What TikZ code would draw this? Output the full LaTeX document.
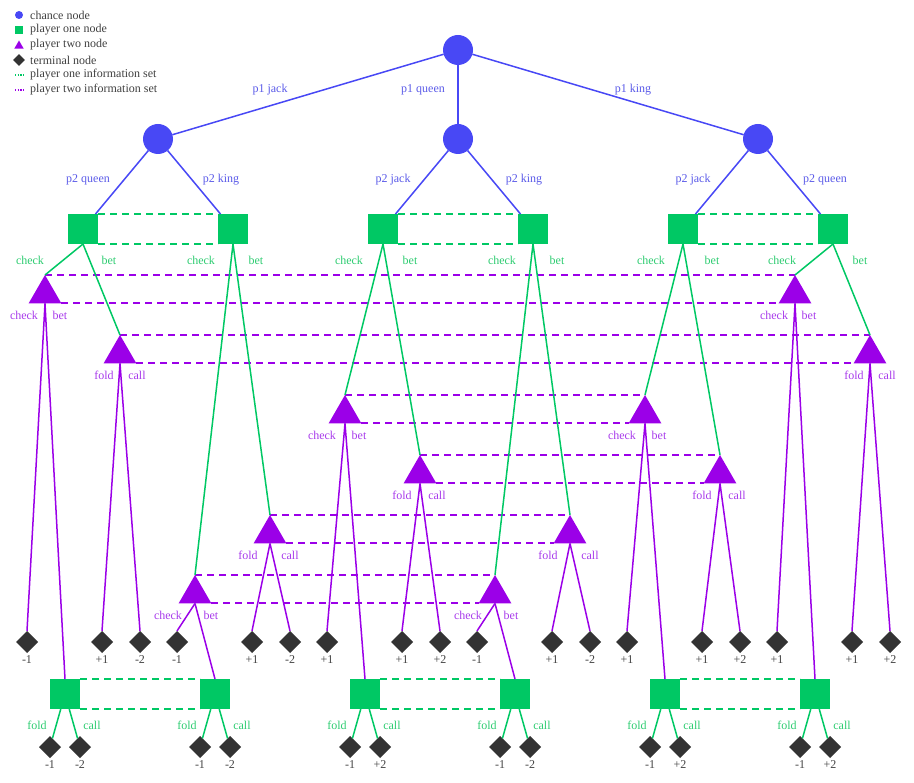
\documentclass[tikz,border=0pt]{standalone}
\usepackage{fontspec}
\setmainfont{Liberation Serif}
\usetikzlibrary{shapes.geometric}

\definecolor{chanceblue}{HTML}{4848F5}
\definecolor{chancelab}{HTML}{5A5AE8}
\definecolor{ponegreen}{HTML}{00C864}
\definecolor{ponelab}{HTML}{2ECC71}
\definecolor{ptwopurple}{HTML}{9B00E8}
\definecolor{ptwolab}{HTML}{A83BEB}
\definecolor{termgray}{HTML}{333333}
\definecolor{vallabgray}{HTML}{444444}

\tikzset{
  every node/.style={font=\fontsize{12}{14}\selectfont},
  chance/.style={circle, fill=chanceblue, minimum size=30pt, inner sep=0pt, outer sep=0pt},
  pone/.style={rectangle, fill=ponegreen, minimum size=30pt, inner sep=0pt, outer sep=0pt},
  ptwo/.style={regular polygon, regular polygon sides=3, fill=ptwopurple, minimum size=38pt, inner sep=0pt, outer sep=0pt},
  term/.style={diamond, fill=termgray, minimum size=22pt, inner sep=0pt, outer sep=0pt},
  vallab/.style={text=vallabgray, inner sep=2pt},
  clab/.style={text=chancelab},
  glab/.style={text=ponelab},
  plab/.style={text=ptwolab},
  cedge/.style={color=chanceblue, line width=1.5pt},
  gedge/.style={color=ponegreen, line width=1.5pt},
  pedge/.style={color=ptwopurple, line width=1.5pt},
  ginfo/.style={color=ponegreen, line width=1.5pt, dash pattern=on 7pt off 5pt},
  pinfo/.style={color=ptwopurple, line width=1.5pt, dash pattern=on 7pt off 5pt},
  % base corners of a player-two triangle, seen from its south anchor
  rbase/.style={xshift=16.45pt, yshift=0.5pt},
  lbase/.style={xshift=-16.45pt, yshift=0.5pt},
}

% terminal node with its payoff printed underneath
\newcommand\payoff[3]{\node[term, label={[vallab]below:#3}] (#1) at (#2) {};}

\begin{document}
\begin{tikzpicture}[x=1pt, y=-1pt]
\useasboundingbox (0,0) rectangle (914,783);

% ---------- legend ----------
\node[circle, fill=chanceblue, minimum size=8pt, inner sep=0pt] (lgc) at (19,15) {};
\node[rectangle, fill=ponegreen, minimum size=8pt, inner sep=0pt] (lgs) at (19,30) {};
\node[regular polygon, regular polygon sides=3, fill=ptwopurple, minimum size=11pt, inner sep=0pt] (lgt) at (19,46) {};
\node[diamond, fill=termgray, minimum size=12pt, inner sep=0pt] (lgd) at (19,60) {};
\coordinate (lgga) at (15,75); \coordinate (lggb) at (24,75);
\coordinate (lgpa) at (15,90); \coordinate (lgpb) at (24,90);
\draw[color=ponegreen, line width=1.2pt, dash pattern=on 1.2pt off 1.5pt] (lgga) -- (lggb);
\draw[color=ptwopurple, line width=1.2pt, dash pattern=on 1.2pt off 1.5pt] (lgpa) -- (lgpb);
\foreach \y/\t [count=\i] in {15/chance node, 30/player one node, 45/player two node,
    60/terminal node, 75/player one information set, 90/player two information set}
  \node[anchor=west, text=black!75, inner sep=0pt] (lgtext\i) at (30,\y) {\t};

% ---------- chance nodes ----------
\node[chance] (c0) at (458,50) {};
\node[chance] (c1) at (158,139) {};
\node[chance] (c2) at (458,139) {};
\node[chance] (c3) at (758,139) {};

% ---------- player one, first decision ----------
\foreach \x [count=\i] in {83,233,383,533,683,833}
  \node[pone] (a\i) at (\x,229) {};

% ---------- player two nodes (apex = centre - 19) ----------
\node[ptwo] (q1)  at (45,294)  {};
\node[ptwo] (q2)  at (795,294) {};
\node[ptwo] (qb1) at (120,354) {};
\node[ptwo] (qb2) at (870,354) {};
\node[ptwo] (j1)  at (345,414) {};
\node[ptwo] (j2)  at (645,414) {};
\node[ptwo] (jb1) at (420,474) {};
\node[ptwo] (jb2) at (720,474) {};
\node[ptwo] (kb1) at (270,534) {};
\node[ptwo] (kb2) at (570,534) {};
\node[ptwo] (k1)  at (195,594) {};
\node[ptwo] (k2)  at (495,594) {};

% ---------- player one, second decision ----------
\foreach \x [count=\i] in {65,215,365,515,665,815}
  \node[pone] (b\i) at (\x,694) {};

% ---------- terminal nodes ----------
\payoff{t1}{27,642}{-1}
\payoff{t2}{102,642}{+1}
\payoff{t3}{140,642}{-2}
\payoff{t4}{177,642}{-1}
\payoff{t5}{252,642}{+1}
\payoff{t6}{290,642}{-2}
\payoff{t7}{327,642}{+1}
\payoff{t8}{402,642}{+1}
\payoff{t9}{440,642}{+2}
\payoff{t10}{477,642}{-1}
\payoff{t11}{552,642}{+1}
\payoff{t12}{590,642}{-2}
\payoff{t13}{627,642}{+1}
\payoff{t14}{702,642}{+1}
\payoff{t15}{740,642}{+2}
\payoff{t16}{777,642}{+1}
\payoff{t17}{852,642}{+1}
\payoff{t18}{890,642}{+2}

\payoff{u1}{50,747}{-1}
\payoff{u2}{80,747}{-2}
\payoff{u3}{200,747}{-1}
\payoff{u4}{230,747}{-2}
\payoff{u5}{350,747}{-1}
\payoff{u6}{380,747}{+2}
\payoff{u7}{500,747}{-1}
\payoff{u8}{530,747}{-2}
\payoff{u9}{650,747}{-1}
\payoff{u10}{680,747}{+2}
\payoff{u11}{800,747}{-1}
\payoff{u12}{830,747}{+2}

% ---------- information sets ----------
% player one
\draw[ginfo] (a1.north east) -- (a2.north west);
\draw[ginfo] (a1.south east) -- (a2.south west);
\draw[ginfo] (a3.north east) -- (a4.north west);
\draw[ginfo] (a3.south east) -- (a4.south west);
\draw[ginfo] (a5.north east) -- (a6.north west);
\draw[ginfo] (a5.south east) -- (a6.south west);
\draw[ginfo] (b1.north east) -- (b2.north west);
\draw[ginfo] (b1.south east) -- (b2.south west);
\draw[ginfo] (b3.north east) -- (b4.north west);
\draw[ginfo] (b3.south east) -- (b4.south west);
\draw[ginfo] (b5.north east) -- (b6.north west);
\draw[ginfo] (b5.south east) -- (b6.south west);

% player two: top line joins the apexes, bottom line the inner base corners
\foreach \l/\rr in {q1/q2, qb1/qb2, j1/j2, jb1/jb2, kb1/kb2, k1/k2} {
  \draw[pinfo] (\l.corner 1) -- (\rr.corner 1);
  \draw[pinfo] ([rbase]\l.south) -- ([lbase]\rr.south);
}

% ---------- connectors ----------
% deal
\draw[cedge] (c0) -- (c1);
\draw[cedge] (c0) -- (c2);
\draw[cedge] (c0) -- (c3);
\draw[cedge] (c1) -- (a1);
\draw[cedge] (c1) -- (a2);
\draw[cedge] (c2) -- (a3);
\draw[cedge] (c2) -- (a4);
\draw[cedge] (c3) -- (a5);
\draw[cedge] (c3) -- (a6);

% player one: check / bet
\draw[gedge] (a1.south) -- (q1.corner 1);
\draw[gedge] (a1.south) -- (qb1.corner 1);
\draw[gedge] (a2.south) -- (k1.corner 1);
\draw[gedge] (a2.south) -- (kb1.corner 1);
\draw[gedge] (a3.south) -- (j1.corner 1);
\draw[gedge] (a3.south) -- (jb1.corner 1);
\draw[gedge] (a4.south) -- (k2.corner 1);
\draw[gedge] (a4.south) -- (kb2.corner 1);
\draw[gedge] (a5.south) -- (j2.corner 1);
\draw[gedge] (a5.south) -- (jb2.corner 1);
\draw[gedge] (a6.south) -- (q2.corner 1);
\draw[gedge] (a6.south) -- (qb2.corner 1);

% player two after a check: check / bet
\draw[pedge] (q1.south) -- (t1.north);
\draw[pedge] (q1.south) -- (b1.north);
\draw[pedge] (k1.south) -- (t4.north);
\draw[pedge] (k1.south) -- (b2.north);
\draw[pedge] (j1.south) -- (t7.north);
\draw[pedge] (j1.south) -- (b3.north);
\draw[pedge] (k2.south) -- (t10.north);
\draw[pedge] (k2.south) -- (b4.north);
\draw[pedge] (j2.south) -- (t13.north);
\draw[pedge] (j2.south) -- (b5.north);
\draw[pedge] (q2.south) -- (t16.north);
\draw[pedge] (q2.south) -- (b6.north);

% player two facing a bet: fold / call
\draw[pedge] (qb1.south) -- (t2.north);
\draw[pedge] (qb1.south) -- (t3.north);
\draw[pedge] (kb1.south) -- (t5.north);
\draw[pedge] (kb1.south) -- (t6.north);
\draw[pedge] (jb1.south) -- (t8.north);
\draw[pedge] (jb1.south) -- (t9.north);
\draw[pedge] (kb2.south) -- (t11.north);
\draw[pedge] (kb2.south) -- (t12.north);
\draw[pedge] (jb2.south) -- (t14.north);
\draw[pedge] (jb2.south) -- (t15.north);
\draw[pedge] (qb2.south) -- (t17.north);
\draw[pedge] (qb2.south) -- (t18.north);

% player one facing a bet: fold / call
\draw[gedge] (b1) -- (u1);
\draw[gedge] (b1) -- (u2);
\draw[gedge] (b2) -- (u3);
\draw[gedge] (b2) -- (u4);
\draw[gedge] (b3) -- (u5);
\draw[gedge] (b3) -- (u6);
\draw[gedge] (b4) -- (u7);
\draw[gedge] (b4) -- (u8);
\draw[gedge] (b5) -- (u9);
\draw[gedge] (b5) -- (u10);
\draw[gedge] (b6) -- (u11);
\draw[gedge] (b6) -- (u12);

% ---------- action labels ----------
\node[clab] (lp1) at (270,90) {p1 jack};
\node[clab] (lp2) at (423,90) {p1 queen};
\node[clab] (lp3) at (633,90) {p1 king};
\foreach \x/\t [count=\i] in {88/p2 queen, 221/p2 king, 393/p2 jack, 524/p2 king, 693/p2 jack, 825/p2 queen}
  \node[clab] (lq\i) at (\x,180) {\t};

\foreach \x/\t [count=\i] in {30/check, 109/bet, 201/check, 256/bet, 349/check, 410/bet,
    502/check, 557/bet, 651/check, 712/bet, 782/check, 860/bet}
  \node[glab] (la\i) at (\x,260) {\t};

\foreach \x/\y/\t [count=\i] in {
    24/315/check, 60/315/bet, 774/315/check, 809/315/bet,
    104/375/fold, 137/375/call, 854/375/fold, 887/375/call,
    322/435/check, 359/435/bet, 622/435/check, 659/435/bet,
    402/495/fold, 437/495/call, 702/495/fold, 737/495/call,
    248/555/fold, 290/555/call, 548/555/fold, 590/555/call,
    168/615/check, 211/615/bet, 468/615/check, 511/615/bet}
  \node[plab] (lt\i) at (\x,\y) {\t};

\foreach \x [count=\i] in {65,215,365,515,665,815} {
  \node[glab] (lf\i) at (\x-28,725) {fold};
  \node[glab] (lc\i) at (\x+27,725) {call};
}
\end{tikzpicture}
\end{document}
